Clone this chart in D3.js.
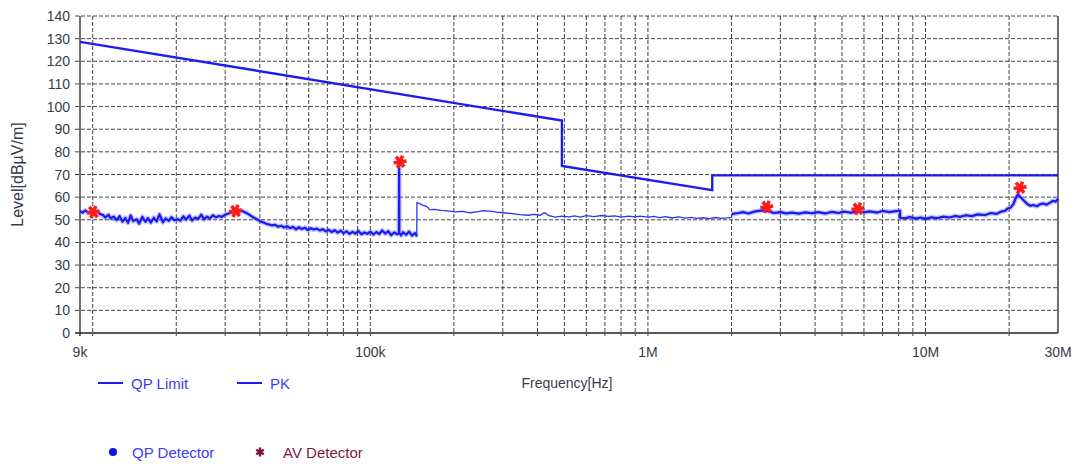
<!DOCTYPE html>
<html>
<head>
<meta charset="utf-8">
<script src="https://cdn.jsdelivr.net/npm/d3@7"></script>
<style>
  body { margin: 0; background: #fff; }
  svg { display: block; }
</style>
</head>
<body>
<script>
// frequencies in kHz, levels in dBuV/m
const limitFreq = [9, 490, 490, 1705, 1705, 30000];
const limitLevel = [128.6, 93.8, 73.8, 63.1, 69.6, 69.6];

// 9k - 150k sweep
const pkLow = [
  [9.0,53.8],[9.2,53.2],[9.4,54.1],[9.6,53.4],[9.8,53.0],[10.0,53.6],[10.2,53.3],[10.4,53.9],
  [10.6,52.6],[10.9,52.1],[11.1,51.0],[11.4,52.2],[11.6,50.6],[11.9,51.4],[12.2,49.9],[12.5,51.6],
  [12.8,49.2],[13.0,50.1],[13.1,50.8],[13.4,48.7],[13.7,51.9],[14.0,49.4],[14.4,50.2],[14.7,48.3],
  [15.1,51.3],[15.3,50.0],[15.5,49.1],[15.8,50.7],[16.2,48.8],[16.6,50.9],[17.0,49.3],[17.4,52.4],
  [17.9,48.9],[18.1,49.8],[18.3,50.6],[18.8,49.5],[19.2,51.2],[19.7,49.8],[20.2,50.3],[20.7,49.6],
  [21.2,51.5],[21.7,50.1],[22.3,51.8],[22.8,49.7],[23.4,51.0],[24.0,50.4],[24.6,52.3],[25.2,50.2],
  [25.8,51.4],[26.4,50.6],[27.1,52.0],[27.8,51.1],[28.5,51.7],[29.2,51.3],[29.9,52.2],[30.6,52.6],
  [31.4,53.1],[32.2,53.6],[33.0,54.0],[33.8,53.7],[34.6,53.9],[35.5,53.2],[36.4,52.5],[37.3,51.6],
  [38.2,50.8],[39.2,50.1],[40.2,49.3],[41.2,48.8],[42.2,48.2],[43.3,47.9],[44.3,47.5],[45.4,47.8],
  [46.6,46.9],[47.7,47.4],[48.9,46.6],[50.1,47.2],[51.4,46.3],[52.7,46.9],[54.0,45.8],[55.3,46.7],
  [56.7,45.9],[58.1,46.5],[59.6,45.4],[61.1,46.3],[62.6,45.7],[64.2,46.1],[65.8,45.3],[67.4,45.9],
  [69.1,44.9],[70.8,45.6],[72.6,44.6],[74.4,45.4],[76.3,44.3],[78.2,45.2],[80.1,44.1],[82.1,44.9],
  [84.2,43.8],[86.3,44.7],[88.4,43.9],[90.6,45.1],[92.9,43.6],[95.2,44.4],[97.6,43.8],[100,44.8],
  [102.5,43.5],[105.1,44.6],[107.7,43.7],[110.4,45.3],[113.2,43.9],[116.0,45.0],[118.9,43.2],
  [121.9,44.4],[124.9,43.6],[126.8,44.0],[127.0,75.4],[127.2,44.1],[129.0,43.1],[131.2,44.5],
  [134.5,43.4],[137.9,44.8],[141.3,43.0],[144.8,44.1],[147.0,42.8]
];

// 150k - 30M sweep
const pkHigh = [
  [147.2,57.5],[150,57.2],[155,56.4],[160,55.8],[164,54.4],[170,54.6],[180,54.2],[190,53.9],
  [202,53.5],[215,53.7],[229,53.1],[245,53.6],[255,54.0],[270,53.8],[285,53.4],[306,53.0],
  [325,52.7],[346,52.3],[370,52.0],[390,52.4],[409,52.0],[420,52.9],[426,53.0],[440,51.8],
  [463,51.2],[490,51.6],[520,51.3],[545,51.7],[570,51.2],[600,51.8],[640,51.4],[680,51.9],
  [720,51.5],[760,51.7],[800,51.2],[850,51.6],[900,51.3],[937,51.6],[1000,51.2],[1050,51.5],
  [1100,51.0],[1160,51.4],[1220,50.8],[1290,51.3],[1360,50.7],[1430,51.1],[1500,50.6],[1580,50.9],
  [1660,50.5],[1750,51.0],[1840,50.6],[1930,50.8],[2000,51.0],[2010,52.6],[2100,52.9],[2200,53.4],
  [2300,52.8],[2400,53.5],[2500,53.9],[2640,54.2],[2750,53.6],[2850,53.0],[3000,53.4],[3150,52.8],
  [3300,53.2],[3500,52.7],[3700,53.3],[3900,52.9],[4100,53.4],[4350,52.8],[4600,53.5],[4850,53.0],
  [5100,53.6],[5400,53.1],[5700,53.8],[6000,53.3],[6300,53.7],[6700,53.2],[7000,53.9],[7400,53.4],
  [7800,53.8],[8090,54.0],[8100,50.9],[8400,50.6],[8800,51.2],[9200,50.5],[9600,51.0],[10000,50.4],
  [10500,51.1],[11000,50.7],[11600,51.4],[12200,51.0],[12800,51.7],[13300,51.3],[14000,52.0],
  [14700,51.6],[15400,52.4],[16400,52.1],[17200,53.0],[18000,52.6],[18700,53.6],[19300,53.9],
  [19800,55.0],[20200,55.3],[20700,56.8],[21100,59.4],[21500,61.2],[22000,60.0],[22800,58.0],
  [23300,56.9],[23800,56.2],[24500,56.5],[25200,56.0],[25800,56.8],[26500,57.2],[27300,56.7],
  [28100,57.6],[28800,58.4],[29400,58.0],[30000,59.2]
];

const markerFreq = [10.05, 32.7, 128, 2680, 5710, 21900];
const markerLevel = [53.4, 53.9, 75.6, 55.7, 54.9, 64.2];

const yTickValues = [0, 10, 20, 30, 40, 50, 60, 70, 80, 90, 100, 110, 120, 130, 140];
const xTickValues = [9, 100, 1000, 10000, 30000];
const xTickLabels = ["9k", "100k", "1M", "10M", "30M"];

class EmiChart {
  constructor() {
    this.width = 1081
    this.height = 464
    this.margin = ({top: 16, right: 23, bottom: 131, left: 80})
    this.blue = "#1c1cf0"
  }

  draw() {
    const m = this.margin
    const svg = d3.select("body").append("svg")
      .attr("width", this.width)
      .attr("height", this.height)
      .attr("font-family", "'Liberation Sans', Arial, sans-serif")

    const x = d3.scaleLog()
      .domain([9, 30000])
      .range([m.left, this.width - m.right])
    const y = d3.scaleLinear()
      .domain([0, 140])
      .range([this.height - m.bottom, m.top])

    const x0 = x.range()[0], x1 = x.range()[1]
    const y0 = y.range()[0], y1 = y.range()[1]

    // vertical grid at 1..9 x decade
    const gridF = []
    for (let dec = 10; dec <= 10000; dec *= 10) {
      for (let k = 1; k <= 9; k++) {
        const f = dec * k
        if (f > 9 && f < 30000) gridF.push(f)
      }
    }
    svg.append("g")
      .selectAll("line")
      .data(gridF)
      .join("line")
      .attr("x1", d => x(d)).attr("x2", d => x(d))
      .attr("y1", y1).attr("y2", y0 + 3)
      .attr("stroke", "#222")
      .attr("stroke-opacity", 0.85)
      .attr("stroke-dasharray", "4,2")

    svg.append("g")
      .selectAll("line")
      .data(yTickValues.filter(d => d > 0))
      .join("line")
      .attr("x1", x0 - 5).attr("x2", x1)
      .attr("y1", d => y(d)).attr("y2", d => y(d))
      .attr("stroke", "#222")
      .attr("stroke-opacity", 0.85)
      .attr("stroke-dasharray", "4,2")

    // axes frame
    svg.append("line")
      .attr("x1", x0).attr("x2", x0).attr("y1", y1).attr("y2", y0 + 3)
      .attr("stroke", "#222").attr("stroke-width", 1.3)
    svg.append("line")
      .attr("x1", x0 - 5).attr("x2", x1).attr("y1", y0).attr("y2", y0)
      .attr("stroke", "#222").attr("stroke-width", 1.3)
    svg.append("line")
      .attr("x1", x1).attr("x2", x1).attr("y1", y1).attr("y2", y0)
      .attr("stroke", "#222").attr("stroke-width", 1.3)

    // tick labels
    svg.append("g")
      .selectAll("text")
      .data(yTickValues)
      .join("text")
      .attr("x", x0 - 10)
      .attr("y", d => y(d))
      .attr("dy", "0.36em")
      .attr("text-anchor", "end")
      .attr("font-size", 14)
      .attr("fill", "#3a3a4a")
      .text(d => d)

    svg.append("g")
      .selectAll("text")
      .data(xTickValues)
      .join("text")
      .attr("x", d => x(d))
      .attr("y", y0 + 24)
      .attr("text-anchor", "middle")
      .attr("font-size", 14)
      .attr("fill", "#3a3a4a")
      .text((d, i) => xTickLabels[i])

    svg.append("text")
      .attr("transform", `translate(23,${(y0 + y1) / 2}) rotate(-90)`)
      .attr("text-anchor", "middle")
      .attr("font-size", 16)
      .attr("fill", "#3a3a4a")
      .text("Level[dBµV/m]")

    svg.append("text")
      .attr("x", 567).attr("y", 388)
      .attr("text-anchor", "middle")
      .attr("font-size", 14)
      .attr("fill", "#3a3a4a")
      .text("Frequency[Hz]")

    // limit
    const line = d3.line().x(d => x(d[0])).y(d => y(d[1]))
    svg.append("path")
      .datum(limitFreq.map((f, i) => [f, limitLevel[i]]))
      .attr("fill", "none")
      .attr("stroke", this.blue)
      .attr("stroke-width", 2.4)
      .attr("d", line)

    // peak trace: thin full sweep, then heavier noisy parts with a soft halo
    const pkAll = pkLow.concat(pkHigh)
    const noisy = [pkLow, pkHigh.filter(d => d[0] >= 2010)]
    svg.append("g")
      .selectAll("path")
      .data(noisy)
      .join("path")
      .attr("fill", "none")
      .attr("stroke", "#5a5aff")
      .attr("stroke-opacity", 0.35)
      .attr("stroke-width", 5)
      .attr("stroke-linejoin", "round")
      .attr("d", line)
    svg.append("path")
      .datum(pkAll)
      .attr("fill", "none")
      .attr("stroke", "#3030f8")
      .attr("stroke-width", 1.3)
      .attr("d", line)
    svg.append("g")
      .selectAll("path")
      .data(noisy)
      .join("path")
      .attr("fill", "none")
      .attr("stroke", this.blue)
      .attr("stroke-width", 2.2)
      .attr("stroke-linejoin", "round")
      .attr("d", line)

    // markers
    const star = d3.symbol().type(d3.symbolAsterisk).size(120)
    svg.append("g")
      .selectAll("path")
      .data(markerFreq)
      .join("path")
      .attr("transform", (d, i) => `translate(${x(d)},${y(markerLevel[i])}) rotate(22)`)
      .attr("d", star)
      .attr("fill", "none")
      .attr("stroke", "#ff1a1a")
      .attr("stroke-width", 3.6)

    // legend
    const leg = svg.append("g").attr("font-size", 15)
    const legLines = [
      {label: "QP Limit", x: 98},
      {label: "PK", x: 237}
    ]
    leg.selectAll("line")
      .data(legLines)
      .join("line")
      .attr("x1", d => d.x).attr("x2", d => d.x + 25)
      .attr("y1", 383).attr("y2", 383)
      .attr("stroke", this.blue).attr("stroke-width", 2)
    leg.selectAll("text.l")
      .data(legLines)
      .join("text")
      .attr("class", "l")
      .attr("x", d => d.x + 33).attr("y", 388.5)
      .attr("fill", "#3b3bf5")
      .text(d => d.label)

    leg.append("circle")
      .attr("cx", 113).attr("cy", 452).attr("r", 4)
      .attr("fill", "#1010e8")
    leg.append("text")
      .attr("x", 132).attr("y", 457.5)
      .attr("fill", "#3b3bf5")
      .text("QP Detector")
    leg.append("path")
      .attr("transform", "translate(260,452)")
      .attr("d", d3.symbol().type(d3.symbolAsterisk).size(55)())
      .attr("stroke", "#7a1040").attr("stroke-width", 2.4)
    leg.append("text")
      .attr("x", 283).attr("y", 457.5)
      .attr("fill", "#7a1a45")
      .text("AV Detector")
  }
}

new EmiChart().draw()
</script>
</body>
</html>
